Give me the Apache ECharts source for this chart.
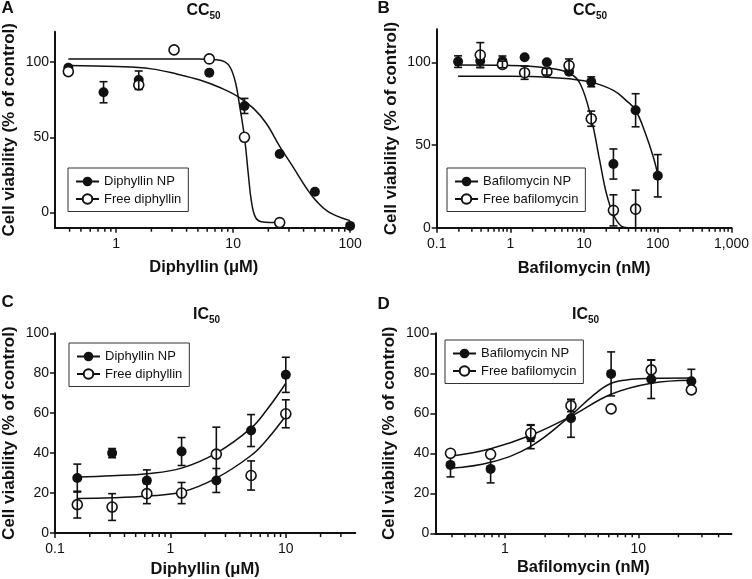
<!DOCTYPE html>
<html><head><meta charset="utf-8">
<script src="https://cdn.jsdelivr.net/npm/echarts@6/dist/echarts.min.js"></script>
<style>html,body{margin:0;padding:0;background:#fff}#c{width:752px;height:579px}</style>
</head><body><div id="c"></div>
<script>
// ---------- Panel A : CC50, diphyllin (µM) ----------
const concA    = [0.39, 0.78, 1.56, 3.125, 6.25, 12.5, 25, 50, 100];
const npA      = [96.2, 79.9, 88, null, 92.9, 70.8, 38.9, 13.9, -8.8];
const npErrA   = [0, 7, 6, 0, 0, 5, 0, 0, 0];
const freeA    = [93.6, null, 84.7, 108, 102, 50, -6.6, null, null];
const freeErrA = [0, 0, 3, 0, 0, 0, 0, 0, 0];
const fitNpA_x   = [0.39, 1, 2, 3.3, 5.2, 7.7, 11, 15, 19.3, 25, 32.7, 42.5, 52, 67, 100];
const fitNpA_y   = [97.6, 96.9, 95.4, 92, 88, 83, 77, 69, 59, 44, 30, 16, 7.3, 0, -5.3];
const fitFreeA_x = [0.39, 2, 5, 7, 8.5, 9.5, 10.5, 11.3, 12.5, 13.5, 14.3, 15.5, 17.5, 25];
const fitFreeA_y = [102, 102, 102, 101.5, 100, 96, 86, 72, 50, 25, 8, -3, -6, -6.6];
const xMajorA = [1, 10, 100];
const xMajorLabelsA = ['1', '10', '100'];
const yTicksA = [0, 50, 100];

// ---------- Panel B : CC50, bafilomycin (nM) ----------
const concB    = [0.195, 0.39, 0.78, 1.56, 3.125, 6.25, 12.5, 25, 50, 100];
const npB      = [100.4, 100.8, 100.8, 103, 100, 94.3, 88.2, 38.5, 71, 31.4];
const npErrB   = [3.5, 4, 3, 0, 0, 0, 3, 9.1, 10, 12.8];
const freeB    = [null, 104.4, 98.7, 93.7, 94.3, 98, 65.9, 10.5, 11.2, null];
const freeErrB = [0, 7.5, 2, 4, 2, 4, 4.6, 9.4, 11.5, 0];
const fitNpB_x   = [0.195, 1, 3.125, 6.25, 12.5, 25, 37, 50, 68, 88, 100];
const fitNpB_y   = [91.6, 91.5, 91, 90, 88, 83, 77, 71, 57, 42, 32];
const fitFreeB_x = [0.195, 1, 3.125, 6.25, 8.85, 12.5, 16.3, 20, 25, 31.8, 39];
const fitFreeB_y = [98.3, 98, 96.5, 93.5, 87, 66, 40.5, 21, 8, 1, 0];
const xMajorB = [0.1, 1, 10, 100, 1000];
const xMajorLabelsB = ['0.1', '1', '10', '100', '1,000'];
const yTicksB = [0, 50, 100];

// ---------- Panel C : IC50, diphyllin (µM) ----------
const concC    = [0.156, 0.3125, 0.625, 1.25, 2.5, 5, 10];
const npC      = [27.5, 40, 26.3, 40.8, 26.3, 51.3, 79.2];
const npErrC   = [7, 2.3, 5.3, 7, 6, 8, 8.8];
const freeC    = [14.2, 13, 19.7, 20, 39.5, 28.8, 59.7];
const freeErrC = [6.7, 6.7, 5, 5.3, 13.5, 7.3, 7];
const fitNpC_x   = [0.156, 0.3125, 0.625, 1.25, 2.5, 5, 6.85, 10];
const fitNpC_y   = [28, 28.7, 29.7, 32.5, 40, 52.5, 61.7, 75];
const fitFreeC_x = [0.156, 0.3125, 0.625, 1.25, 2.5, 5, 6.85, 10];
const fitFreeC_y = [17.3, 17.6, 18.5, 20.5, 27.5, 38.8, 46.7, 58.7];
const xMajorC = [0.1, 1, 10];
const xMajorLabelsC = ['0.1', '1', '10'];
const yTicksC = [0, 20, 40, 60, 80, 100];

// ---------- Panel D : IC50, bafilomycin (nM) ----------
const concD    = [0.39, 0.78, 1.56, 3.125, 6.25, 12.5, 25];
const npD      = [34.2, 32.2, 48.3, 57.5, 79.7, 77, 76];
const npErrD   = [6, 7, 6, 9.5, 11, 9.6, 6];
const freeD    = [40, 39.5, 50, 63.8, 62.2, 81.7, 71.7];
const freeErrD = [0, 0, 4, 3, 0, 5, 0];
const fitNpD_x   = [0.39, 0.78, 1.56, 3.125, 4.5, 6.25, 9, 12.5, 25];
const fitNpD_y   = [32.5, 35.5, 43.5, 59, 68.5, 75, 77, 77.5, 77.7];
const fitFreeD_x = [0.39, 0.78, 1.56, 3.125, 6.25, 12.5, 25];
const fitFreeD_y = [38.5, 42.3, 49, 58.5, 69.5, 75, 76.5];
const xMajorD = [1, 10];
const xMajorLabelsD = ['1', '10'];
const yTicksD = [0, 20, 40, 60, 80, 100];

const FONT = '"Liberation Sans", Arial, Helvetica, sans-serif';
const INK = '#111';

const panels = [
  { conc: concA, np: npA, npErr: npErrA, free: freeA, freeErr: freeErrA,
    fitNp: [fitNpA_x, fitNpA_y], fitFree: [fitFreeA_x, fitFreeA_y],
    xRange: [0.3, 105], yRange: [-10, 120], xMajor: xMajorA, xLabels: xMajorLabelsA, yTicks: yTicksA,
    names: ['Diphyllin NP', 'Free diphyllin'], xName: 'Diphyllin (μM)', nameGap: 31,
    grid: { left: 55, top: 31.8, width: 297.6, height: 195.9 },
    legend: { left: 68, top: 168 } },
  { conc: concB, np: npB, npErr: npErrB, free: freeB, freeErr: freeErrB,
    fitNp: [fitNpB_x, fitNpB_y], fitFree: [fitFreeB_x, fitFreeB_y],
    xRange: [0.1, 1000], yRange: [0, 120], xMajor: xMajorB, xLabels: xMajorLabelsB, yTicks: yTicksB,
    names: ['Bafilomycin NP', 'Free bafilomycin'], xName: 'Bafilomycin (nM)', nameGap: 32,
    grid: { left: 436.7, top: 29.2, width: 300, height: 198.5 },
    legend: { left: 447, top: 168 } },
  { conc: concC, np: npC, npErr: npErrC, free: freeC, freeErr: freeErrC,
    fitNp: [fitNpC_x, fitNpC_y], fitFree: [fitFreeC_x, fitFreeC_y],
    xRange: [0.1, 40], yRange: [0, 100], xMajor: xMajorC, xLabels: xMajorLabelsC, yTicks: yTicksC,
    names: ['Diphyllin NP', 'Free diphyllin'], xName: 'Diphyllin (μM)', nameGap: 28,
    grid: { left: 54.3, top: 333.3, width: 301, height: 200 },
    legend: { left: 69, top: 343 } },
  { conc: concD, np: npD, npErr: npErrD, free: freeD, freeErr: freeErrD,
    fitNp: [fitNpD_x, fitNpD_y], fitFree: [fitFreeD_x, fitFreeD_y],
    xRange: [0.3, 50], yRange: [0, 100], xMajor: xMajorD, xLabels: xMajorLabelsD, yTicks: yTicksD,
    names: ['Bafilomycin NP', 'Free bafilomycin'], xName: 'Bafilomycin (nM)', nameGap: 26,
    grid: { left: 435.3, top: 333.3, width: 296.2, height: 200 },
    legend: { left: 445, top: 340 } }
];

const lg = v => Math.log10(v);
function minorTicks(lo, hi) {
  const out = [];
  for (let d = Math.floor(lg(lo)); d <= Math.ceil(lg(hi)); d++) {
    for (let k = 2; k <= 9; k++) {
      const v = k * Math.pow(10, d);
      if (v > lo * 1.0001 && v < hi * 0.9999) out.push(lg(v));
    }
  }
  return out;
}
function pairs(xs, ys) { return xs.map((x, i) => [lg(x), ys[i]]); }
function pts(conc, vals) { const o = []; conc.forEach((c, i) => { if (vals[i] != null) o.push([lg(c), vals[i]]); }); return o; }
function errs(conc, vals, e) { const o = []; conc.forEach((c, i) => { if (vals[i] != null && e[i] > 0) o.push([lg(c), vals[i], e[i]]); }); return o; }

function errRender(params, api) {
  const x = api.value(0), y = api.value(1), e = api.value(2);
  const p1 = api.coord([x, y + e]), p2 = api.coord([x, y - e]);
  const hw = 4;
  const st = { stroke: INK, lineWidth: 1.6 };
  return { type: 'group', children: [
    { type: 'line', shape: { x1: p1[0], y1: p1[1], x2: p2[0], y2: p2[1] }, style: st },
    { type: 'line', shape: { x1: p1[0] - hw, y1: p1[1], x2: p1[0] + hw, y2: p1[1] }, style: st },
    { type: 'line', shape: { x1: p2[0] - hw, y1: p2[1], x2: p2[0] + hw, y2: p2[1] }, style: st }
  ]};
}
// minor log ticks: positioned through the axis scale (api.coord), drawn 3px below the x axis line
function minorTickRender(params, api) {
  const p = api.coord([api.value(0), api.value(1)]);
  return { type: 'line', shape: { x1: p[0], y1: p[1] + 1, x2: p[0], y2: p[1] + 4 }, style: { stroke: INK, lineWidth: 1.5 } };
}

const grid = [], xAxis = [], yAxis = [], series = [], legend = [];
panels.forEach((p, i) => {
  grid.push(p.grid);
  const xmin = lg(p.xRange[0]), xmax = lg(p.xRange[1]);
  const majors = p.xMajor.map(lg);
  xAxis.push({
    type: 'value', gridIndex: i, min: xmin, max: xmax, position: 'bottom',
    name: p.xName, nameLocation: 'middle', nameGap: p.nameGap,
    nameTextStyle: { fontFamily: FONT, fontWeight: 'bold', fontSize: 16.5, color: INK },
    axisLine: { onZero: false, lineStyle: { color: INK, width: 2 } },
    axisTick: { customValues: majors, length: 5, lineStyle: { color: INK, width: 1.5 } },
    axisLabel: { customValues: majors, margin: 9, fontFamily: FONT, fontSize: 14, color: INK,
      formatter: v => { let best = 0; majors.forEach((m, k) => { if (Math.abs(m - v) < Math.abs(majors[best] - v)) best = k; }); return p.xLabels[best]; } },
    splitLine: { show: false }
  });
  yAxis.push({
    type: 'value', gridIndex: i, min: p.yRange[0], max: p.yRange[1],
    name: 'Cell viability (% of control)', nameLocation: 'middle', nameGap: 37,
    nameTextStyle: { fontFamily: FONT, fontWeight: 'bold', fontSize: 17, color: INK },
    axisLine: { show: true, onZero: false, lineStyle: { color: INK, width: 2 } },
    axisTick: { show: true, customValues: p.yTicks, length: 5, lineStyle: { color: INK, width: 1.5 } },
    axisLabel: { customValues: p.yTicks, margin: 6, fontFamily: FONT, fontSize: 14, color: INK },
    splitLine: { show: false }
  });
  series.push({
    type: 'custom', xAxisIndex: i, yAxisIndex: i, clip: false, silent: true, z: 1,
    data: minorTicks(p.xRange[0], p.xRange[1]).map(v => [v, p.yRange[0]]),
    renderItem: minorTickRender
  });
  series.push({
    type: 'line', name: p.names[0], xAxisIndex: i, yAxisIndex: i, data: pairs(p.fitNp[0], p.fitNp[1]),
    smooth: 0.4, showSymbol: false, symbol: 'circle', color: INK,
    lineStyle: { color: INK, width: 1.5 }, itemStyle: { color: INK }, z: 2, silent: true
  });
  series.push({
    type: 'line', name: p.names[1], xAxisIndex: i, yAxisIndex: i, data: pairs(p.fitFree[0], p.fitFree[1]),
    smooth: 0.4, showSymbol: false, symbol: 'emptyCircle', color: INK,
    lineStyle: { color: INK, width: 1.5 }, itemStyle: { color: INK }, z: 2, silent: true
  });
  series.push({
    type: 'scatter', name: p.names[0], xAxisIndex: i, yAxisIndex: i, data: pts(p.conc, p.np),
    symbol: 'circle', symbolSize: 10, itemStyle: { color: INK, opacity: 1 }, z: 3, silent: true
  });
  series.push({
    type: 'custom', name: p.names[0], xAxisIndex: i, yAxisIndex: i, data: errs(p.conc, p.np, p.npErr),
    renderItem: errRender, z: 4, silent: true
  });
  series.push({
    type: 'scatter', name: p.names[1], xAxisIndex: i, yAxisIndex: i, data: pts(p.conc, p.free),
    symbol: 'circle', symbolSize: 10, itemStyle: { color: '#fff', borderColor: INK, borderWidth: 1.6, opacity: 1 }, z: 5, silent: true
  });
  series.push({
    type: 'custom', name: p.names[1], xAxisIndex: i, yAxisIndex: i, data: errs(p.conc, p.free, p.freeErr),
    renderItem: errRender, z: 6, silent: true
  });
  legend.push({
    left: p.legend.left, top: p.legend.top, orient: 'vertical',
    data: p.names, padding: [7, 7, 6, 7], itemGap: 4.5, itemWidth: 23, itemHeight: 12,
    borderColor: '#333', borderWidth: 1, backgroundColor: '#fff',
    textStyle: { fontFamily: FONT, fontSize: 13, color: INK }, selectedMode: false
  });
});

function txt(x, y, s, size, align, va) {
  return { type: 'text', x: x, y: y, silent: true,
    style: { text: s, font: 'bold ' + size + 'px ' + FONT, fill: INK, textAlign: align, textVerticalAlign: va, align: align, verticalAlign: va } };
}
const graphic = [
  txt(1.5, 8, 'A', 17, 'left', 'middle'),
  txt(377.5, 8, 'B', 17, 'left', 'middle'),
  txt(1.5, 302.5, 'C', 17, 'left', 'middle'),
  txt(377.5, 304, 'D', 17, 'left', 'middle'),
  txt(209.5, 11, 'CC', 16, 'right', 'middle'), txt(209.5, 16.5, '50', 10, 'left', 'middle'),
  txt(596, 11, 'CC', 16, 'right', 'middle'), txt(596, 16.5, '50', 10, 'left', 'middle'),
  txt(209, 315, 'IC', 16, 'right', 'middle'), txt(209, 320.5, '50', 10, 'left', 'middle'),
  txt(588, 315, 'IC', 16, 'right', 'middle'), txt(588, 320.5, '50', 10, 'left', 'middle')
];

const chart = echarts.init(document.getElementById('c'), null, { renderer: 'canvas' });
chart.setOption({ animation: false, backgroundColor: '#fff', grid, xAxis, yAxis, series, legend, graphic });
</script></body></html>
